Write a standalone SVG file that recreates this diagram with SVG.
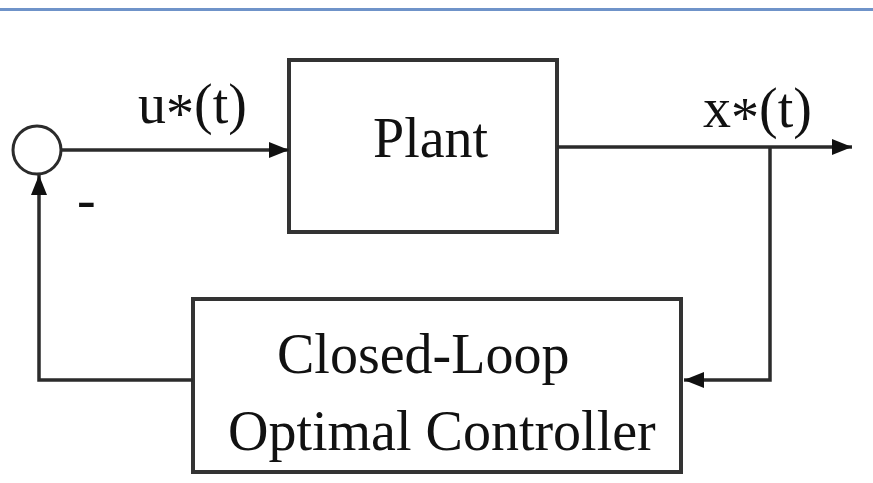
<svg xmlns="http://www.w3.org/2000/svg" width="873" height="483" viewBox="0 0 873 483">
<style>
.box{fill:#fff;stroke:#333;stroke-width:4}
.ln{fill:none;stroke:#2b2b2b;stroke-width:3.5}
.t{font-size:56px;fill:#111}
</style>
<defs>
<marker id="ah" markerWidth="22" markerHeight="20" refX="20" refY="10" orient="auto" markerUnits="userSpaceOnUse">
<path d="M0,2 L20,10 L0,18 Z" fill="#111"/>
</marker>
</defs>
<rect width="873" height="483" fill="#fff"/>
<line x1="0" y1="9.5" x2="873" y2="9.5" stroke="#6f93c9" stroke-width="3"/>
<g id="sum"><circle cx="37" cy="150" r="24" fill="#fff" stroke="#2b2b2b" stroke-width="3"/></g>
<g font-family="'Liberation Serif', 'DejaVu Serif', serif">
<g id="plant"><rect class="box" x="289" y="60" width="268" height="172"/><text class="t" x="373" y="157">Plant</text></g>
<g id="controller"><rect class="box" x="193" y="299" width="488" height="173"/><text class="t" x="277" y="373">Closed-Loop</text><text class="t" x="228" y="450">Optimal Controller</text></g>
<g id="labels">
<text class="t" x="138" y="123">u<tspan dy="10">*</tspan><tspan dy="-10">(t)</tspan></text>
<text class="t" x="703" y="127">x<tspan dy="10">*</tspan><tspan dy="-10">(t)</tspan></text>
<text class="t" x="77" y="218">-</text>
</g>
</g>
<g id="connectors">
<line class="ln" x1="61" y1="150" x2="289" y2="150" marker-end="url(#ah)"/>
<line class="ln" x1="557" y1="147" x2="852" y2="147" marker-end="url(#ah)"/>
<polyline class="ln" points="770,147 770,380 684,380" marker-end="url(#ah)"/>
<polyline class="ln" points="193,380 39,380 39,175" marker-end="url(#ah)"/>
</g>
</svg>
